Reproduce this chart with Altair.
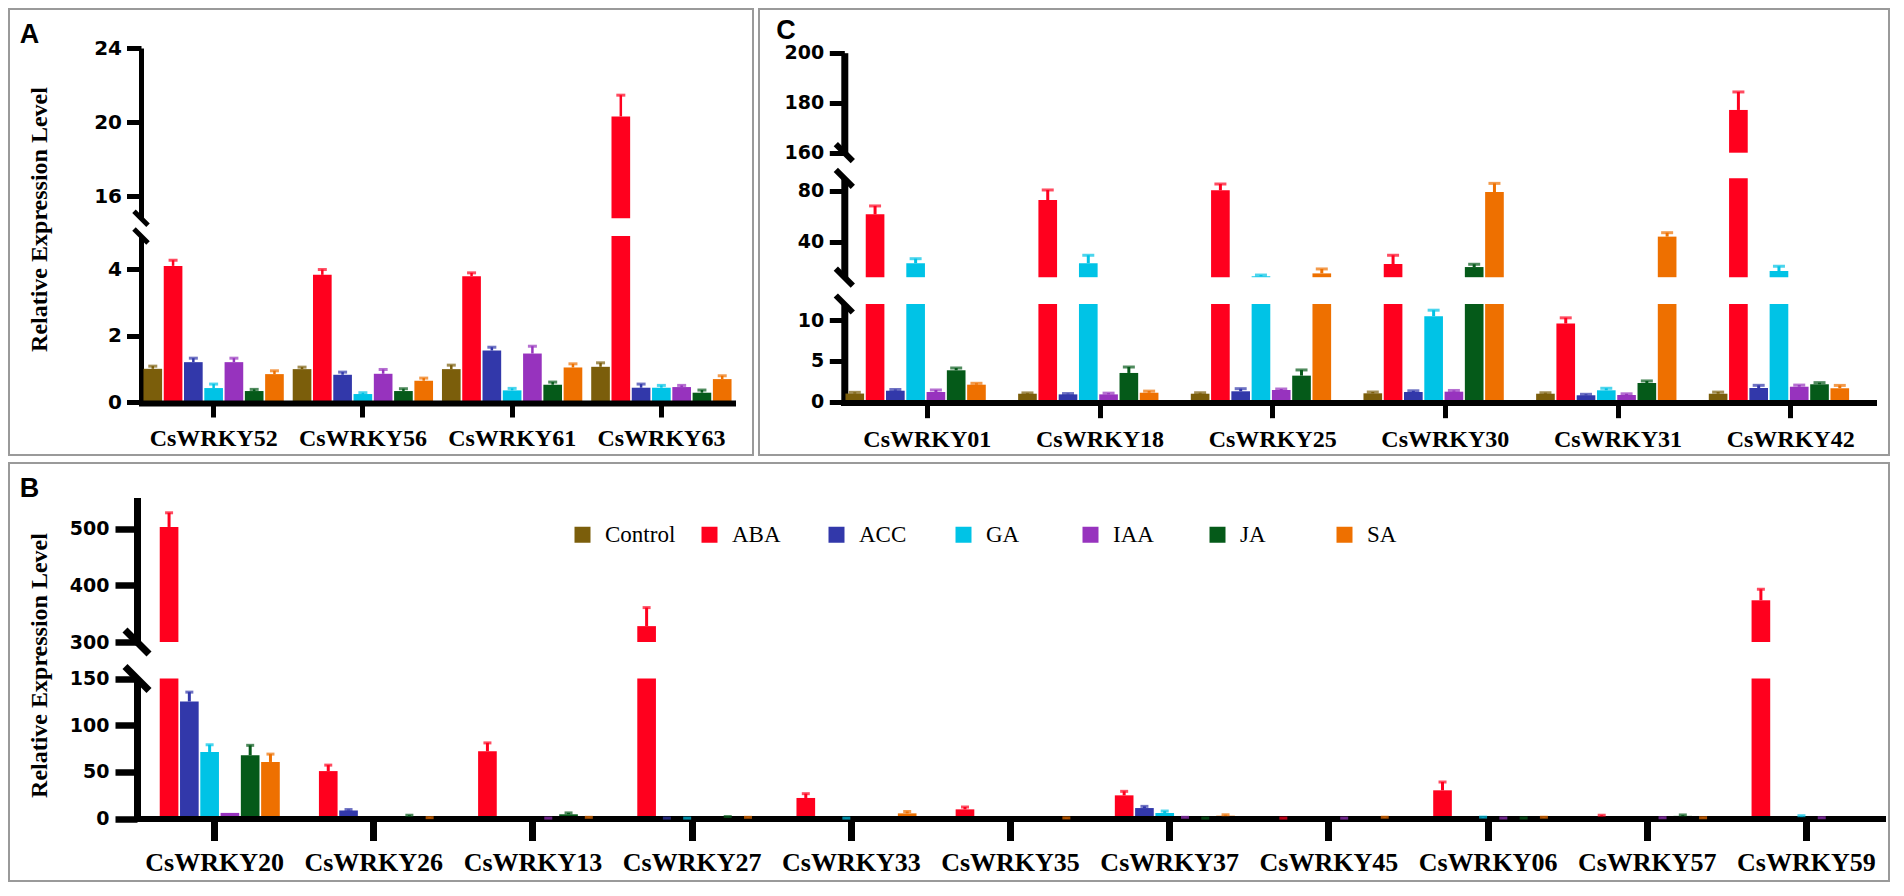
import altair as alt
import pandas as pd

TREATMENTS = ["Control", "ABA", "ACC", "GA", "IAA", "JA", "SA"]
COLORS = ["#7b5e0b", "#ff001e", "#3238aa", "#00c3e6", "#9733be", "#055a19", "#ee7000"]

# ---------------- Panel A ----------------
A_GENES = ["CsWRKY52", "CsWRKY56", "CsWRKY61", "CsWRKY63"]
A_MEAN = {
    "Control": [1.00, 0.99, 0.99, 1.06],
    "ABA": [4.10, 3.83, 3.79, 20.3],
    "ACC": [1.20, 0.82, 1.55, 0.43],
    "GA": [0.42, 0.24, 0.35, 0.43],
    "IAA": [1.20, 0.85, 1.46, 0.45],
    "JA": [0.33, 0.33, 0.52, 0.28],
    "SA": [0.84, 0.64, 1.04, 0.69],
}
A_ERR = {
    "Control": [0.08, 0.06, 0.12, 0.12],
    "ABA": [0.17, 0.16, 0.10, 1.15],
    "ACC": [0.12, 0.08, 0.10, 0.11],
    "GA": [0.12, 0.04, 0.06, 0.07],
    "IAA": [0.12, 0.13, 0.22, 0.05],
    "JA": [0.05, 0.07, 0.08, 0.08],
    "SA": [0.10, 0.08, 0.11, 0.10],
}

# ---------------- Panel C ----------------
C_GENES = ["CsWRKY01", "CsWRKY18", "CsWRKY25", "CsWRKY30", "CsWRKY31", "CsWRKY42"]
C_MEAN = {
    "Control": [1.00, 0.98, 0.98, 1.03, 0.98, 0.98],
    "ABA": [61.6, 72.9, 80.5, 22.4, 9.6, 177.1],
    "ACC": [1.35, 0.90, 1.28, 1.19, 0.79, 1.68],
    "GA": [23.0, 23.0, 12.7, 10.5, 1.40, 16.9],
    "IAA": [1.19, 0.90, 1.44, 1.23, 0.82, 1.84],
    "JA": [3.86, 3.53, 3.20, 20.0, 2.30, 2.14],
    "SA": [2.09, 1.10, 15.0, 79.2, 44.0, 1.65],
}
C_ERR = {
    "Control": [0.15, 0.10, 0.12, 0.16, 0.12, 0.20],
    "ABA": [6.6, 7.9, 5.0, 6.9, 0.70, 7.2],
    "ACC": [0.15, 0.10, 0.32, 0.15, 0.12, 0.33],
    "GA": [3.6, 6.3, 1.0, 0.74, 0.25, 3.7],
    "IAA": [0.25, 0.15, 0.12, 0.15, 0.15, 0.20],
    "JA": [0.28, 0.73, 0.70, 2.2, 0.25, 0.20],
    "SA": [0.17, 0.20, 3.5, 6.8, 3.1, 0.35],
}

# ---------------- Panel B ----------------
B_GENES = ["CsWRKY20", "CsWRKY26", "CsWRKY13", "CsWRKY27", "CsWRKY33", "CsWRKY35",
           "CsWRKY37", "CsWRKY45", "CsWRKY06", "CsWRKY57", "CsWRKY59"]
B_MEAN = {
    "Control": [1.0, 1.0, 1.0, 1.0, 1.0, 1.0, 1.0, 1.0, 1.0, 1.0, 1.0],
    "ABA": [503.0, 50.8, 72.0, 328.0, 22.0, 9.8, 24.8, 0.2, 30.2, 2.5, 373.6],
    "ACC": [125.4, 8.6, 0.5, 0.2, 0.5, 0.5, 11.2, 0.5, 0.5, 0.5, 0.5],
    "GA": [71.3, 0.5, 0.5, 0.2, 0.2, 0.5, 5.9, 0.5, 1.0, 0.5, 2.2],
    "IAA": [6.0, 0.5, 0.2, 0.5, 0.5, 0.5, 1.0, 0.2, 0.3, 0.5, 0.5],
    "JA": [67.7, 2.5, 4.5, 1.5, 0.5, 0.5, 0.2, 0.5, 0.3, 2.8, 0.5],
    "SA": [60.6, 0.5, 1.0, 1.0, 5.5, 0.3, 3.0, 1.0, 1.0, 0.5, 0.5],
}
B_ERR = {
    "Control": [0, 0, 0, 0, 0, 0, 0, 0, 0, 0, 0],
    "ABA": [25.0, 6.4, 9.0, 32.7, 4.6, 2.5, 4.3, 0.2, 8.9, 1.0, 19.5],
    "ACC": [10.0, 1.0, 0, 0.2, 0, 0, 1.8, 0, 0, 0, 0],
    "GA": [7.7, 0, 0, 0.2, 0.2, 0, 2.1, 0, 0.5, 0, 0.8],
    "IAA": [0, 0, 0.2, 0, 0, 0, 0.3, 0.2, 0.2, 0.3, 0.3],
    "JA": [10.7, 1.0, 1.5, 0.6, 0, 0, 0.2, 0, 0.2, 1.0, 0],
    "SA": [8.4, 0.4, 0.3, 0.3, 2.0, 0.3, 1.0, 0.4, 0.4, 0.3, 0],
}

Y_TITLE = "Relative Expression Level"
SERIF = "Liberation Serif, Times New Roman, serif"
ONE = pd.DataFrame({"k": [0]})


def build_df(genes, mean, err):
    rows = []
    for t in TREATMENTS:
        for g, v, e in zip(genes, mean[t], err[t]):
            rows.append({"gene": g, "treatment": t, "value": v, "err": e, "top": v + e})
    return pd.DataFrame(rows)


def make_panel(genes, mean, err, L, legend=None):
    df = build_df(genes, mean, err)
    base = alt.Chart(df)
    xscale = alt.Scale(domain=genes, range=L["xrange"], paddingInner=0, paddingOuter=0)
    xoscale = alt.Scale(domain=TREATMENTS, paddingInner=0.08, paddingOuter=0.22)
    cscale = alt.Scale(domain=TREATMENTS, range=COLORS)
    xaxis = alt.Axis(
        orient="bottom", offset=L["xaxis_y"] - L["H"], domain=False, grid=False,
        ticks=True, tickSize=L["xtick"], tickWidth=L["xtickw"], tickColor="black",
        labelFont="Liberation Serif", labelFontWeight="bold", labelFontSize=L["xfont"],
        labelColor="black", labelPadding=L["xpad"], labelAngle=0, labelLimit=400, title=None,
    )
    # same axis definition in every layer so the shared x axis merges cleanly
    xenc = alt.X("gene:N", sort=genes, scale=xscale, axis=xaxis)
    xo = alt.XOffset("treatment:N", sort=TREATMENTS, scale=xoscale)

    def COL(leg=None):
        return alt.Color("treatment:N", sort=TREATMENTS, scale=cscale, legend=leg)

    bar_layers, err_layers, cap_layers = [], [], []
    seg_scales = []
    for k, (lo, hi, plo, phi, ticks) in enumerate(L["segs"]):
        ys = alt.Scale(domain=[lo, hi], range=[plo, phi], clamp=True, zero=False, nice=False)
        seg_scales.append(ys)
        ax = dict(
            orient="left", offset=-L["axis_x"], values=ticks, format="d", grid=False,
            domain=True, domainColor="black", domainWidth=L["ydomw"],
            ticks=True, tickColor="black", tickSize=L["ytick"], tickWidth=L["ytickw"],
            labelFont="DejaVu Sans", labelFontWeight="bold", labelFontSize=L["yfont"],
            labelColor="black", labelPadding=L["ypad"], labelOverlap=False, labelFlush=False,
            title=None,
        )
        if L.get("title_seg") == k:
            ax.update(
                title=Y_TITLE, titleFont="Liberation Serif", titleFontWeight="bold",
                titleFontSize=24, titleColor="black", titleX=L["titleX"], titleY=L["titleY"],
                titleAngle=270, titleAlign="center", titleBaseline="bottom",
            )
        bar_layers.append(
            base.transform_filter(f"datum.value > {lo}").mark_bar().encode(
                x=xenc, xOffset=xo,
                y=alt.Y("value:Q", scale=ys, axis=alt.Axis(**ax)),
                y2=alt.Y2Datum(lo),
                color=COL(legend if k == 0 else None),
            )
        )
        err_layers.append(
            base.transform_filter(
                f"datum.err > 0 && datum.value >= {lo} && datum.value <= {hi}"
            ).mark_rule(strokeWidth=L["errw"]).encode(
                x=xenc, xOffset=xo,
                y=alt.Y("value:Q", scale=ys, axis=None), y2=alt.Y2("top:Q"),
                color=COL(),
            )
        )
        cap_layers.append(
            base.transform_filter(
                f"datum.err > 0 && datum.top >= {lo} && datum.top <= {hi}"
            ).mark_tick(orient="horizontal", size=L["capw"], thickness=3).encode(
                x=xenc, xOffset=xo,
                y=alt.Y("top:Q", scale=ys, axis=None),
                color=COL(),
            )
        )

    baseline = alt.Chart(ONE).mark_rule(
        color="black", strokeWidth=6, yOffset=L["base_off"], strokeCap="butt"
    ).encode(
        x=alt.value(L["xrange"][0]), x2=alt.value(L["xrange"][1]),
        y=alt.YDatum(0, scale=seg_scales[0], axis=None),
    )

    breaks = []
    d = L["brk_d"]
    for k in range(len(L["segs"])):
        lo, hi, plo, phi, _ = L["segs"][k]
        ends = []
        if k > 0:
            ends.append(plo)
        if k < len(L["segs"]) - 1:
            ends.append(phi)
        for cy in ends:
            cx = L["axis_x"]
            breaks.append(
                alt.Chart(ONE).mark_rule(color="black", strokeWidth=L["brk_w"], strokeCap="butt").encode(
                    x=alt.value(cx - d), x2=alt.value(cx + d),
                    y=alt.value(cy - d), y2=alt.value(cy + d),
                )
            )

    letter = alt.Chart(ONE).mark_text(
        text=L["letter"], font="Liberation Sans", fontWeight="bold", fontSize=27,
        align="center", baseline="middle", color="black",
    ).encode(x=alt.value(L["letter_xy"][0]), y=alt.value(L["letter_xy"][1]))

    layers = bar_layers + [baseline] + err_layers + cap_layers + breaks + [letter]
    return (
        alt.layer(*layers)
        .resolve_scale(y="independent")
        .resolve_axis(y="independent")
        .properties(width=L["W"], height=L["H"])
    )


LAY_A = dict(
    W=744, H=446, xrange=[130, 727], axis_x=132,
    segs=[(0, 5, 393, 227, [0, 2, 4]), (14.8, 24, 209.2, 39, [16, 20, 24])],
    base_off=1.5, xaxis_y=394.5, xtick=13.5, xtickw=5, xpad=9, xfont=24,
    ydomw=5, ytick=14.5, ytickw=5, ypad=5, yfont=20,
    title_seg=1, titleX=-90, titleY=210,
    brk_d=7, brk_w=5, capw=9, errw=2.5, letter="A", letter_xy=(20.5, 25.5),
)
LAY_C = dict(
    W=1130, H=446, xrange=[82, 1118], axis_x=85.3,
    segs=[(0, 12, 392.7, 295, [0, 5, 10]), (12, 90, 268.2, 169.3, [40, 80]),
          (160, 200, 143.7, 43.7, [160, 180, 200])],
    base_off=1.3, xaxis_y=394, xtick=14.7, xtickw=5, xpad=10, xfont=24,
    ydomw=7, ytick=15, ytickw=5, ypad=5.6, yfont=19,
    brk_d=8.5, brk_w=6, capw=12, errw=3, letter="C", letter_xy=(27, 22),
)
LAY_B = dict(
    W=1880, H=418, xrange=[126, 1877], axis_x=128,
    segs=[(0, 150, 355.5, 215.5, [0, 50, 100, 150]), (300, 555, 179, 34.5, [300, 400, 500])],
    base_off=0.5, xaxis_y=356, xtick=21.5, xtickw=7, xpad=9, xfont=26,
    ydomw=7, ytick=22, ytickw=6.5, ypad=6, yfont=19,
    title_seg=0, titleX=-86, titleY=202,
    brk_d=12, brk_w=7, capw=8, errw=3, letter="B", letter_xy=(20.5, 26),
)

legend_B = alt.Legend(
    orient="none", legendX=562, legendY=60, direction="horizontal", columns=7,
    title=None, symbolType="square", symbolSize=256, symbolStrokeWidth=0, symbolOpacity=1,
    labelFont=SERIF, labelFontSize=23, labelFontWeight="normal",
    labelColor="black", labelOffset=11,
    columnPadding=22, gridAlign="all", padding=0,
)

panel_A = make_panel(A_GENES, A_MEAN, A_ERR, LAY_A)
panel_C = make_panel(C_GENES, C_MEAN, C_ERR, LAY_C)
panel_B = make_panel(B_GENES, B_MEAN, B_ERR, LAY_B, legend=legend_B)

top_row = alt.hconcat(panel_A, panel_C, spacing=6, bounds="flush")
chart = (
    alt.vconcat(top_row, panel_B, spacing=6)
    .resolve_scale(color="independent")
    .properties(padding=0, background="white")
    .configure_view(stroke="#9a9a9a", strokeWidth=2)
    .configure_legend(labelFont=SERIF, labelFontSize=23)
)

chart.save("out.html", embed_options={"renderer": "svg", "actions": False})
